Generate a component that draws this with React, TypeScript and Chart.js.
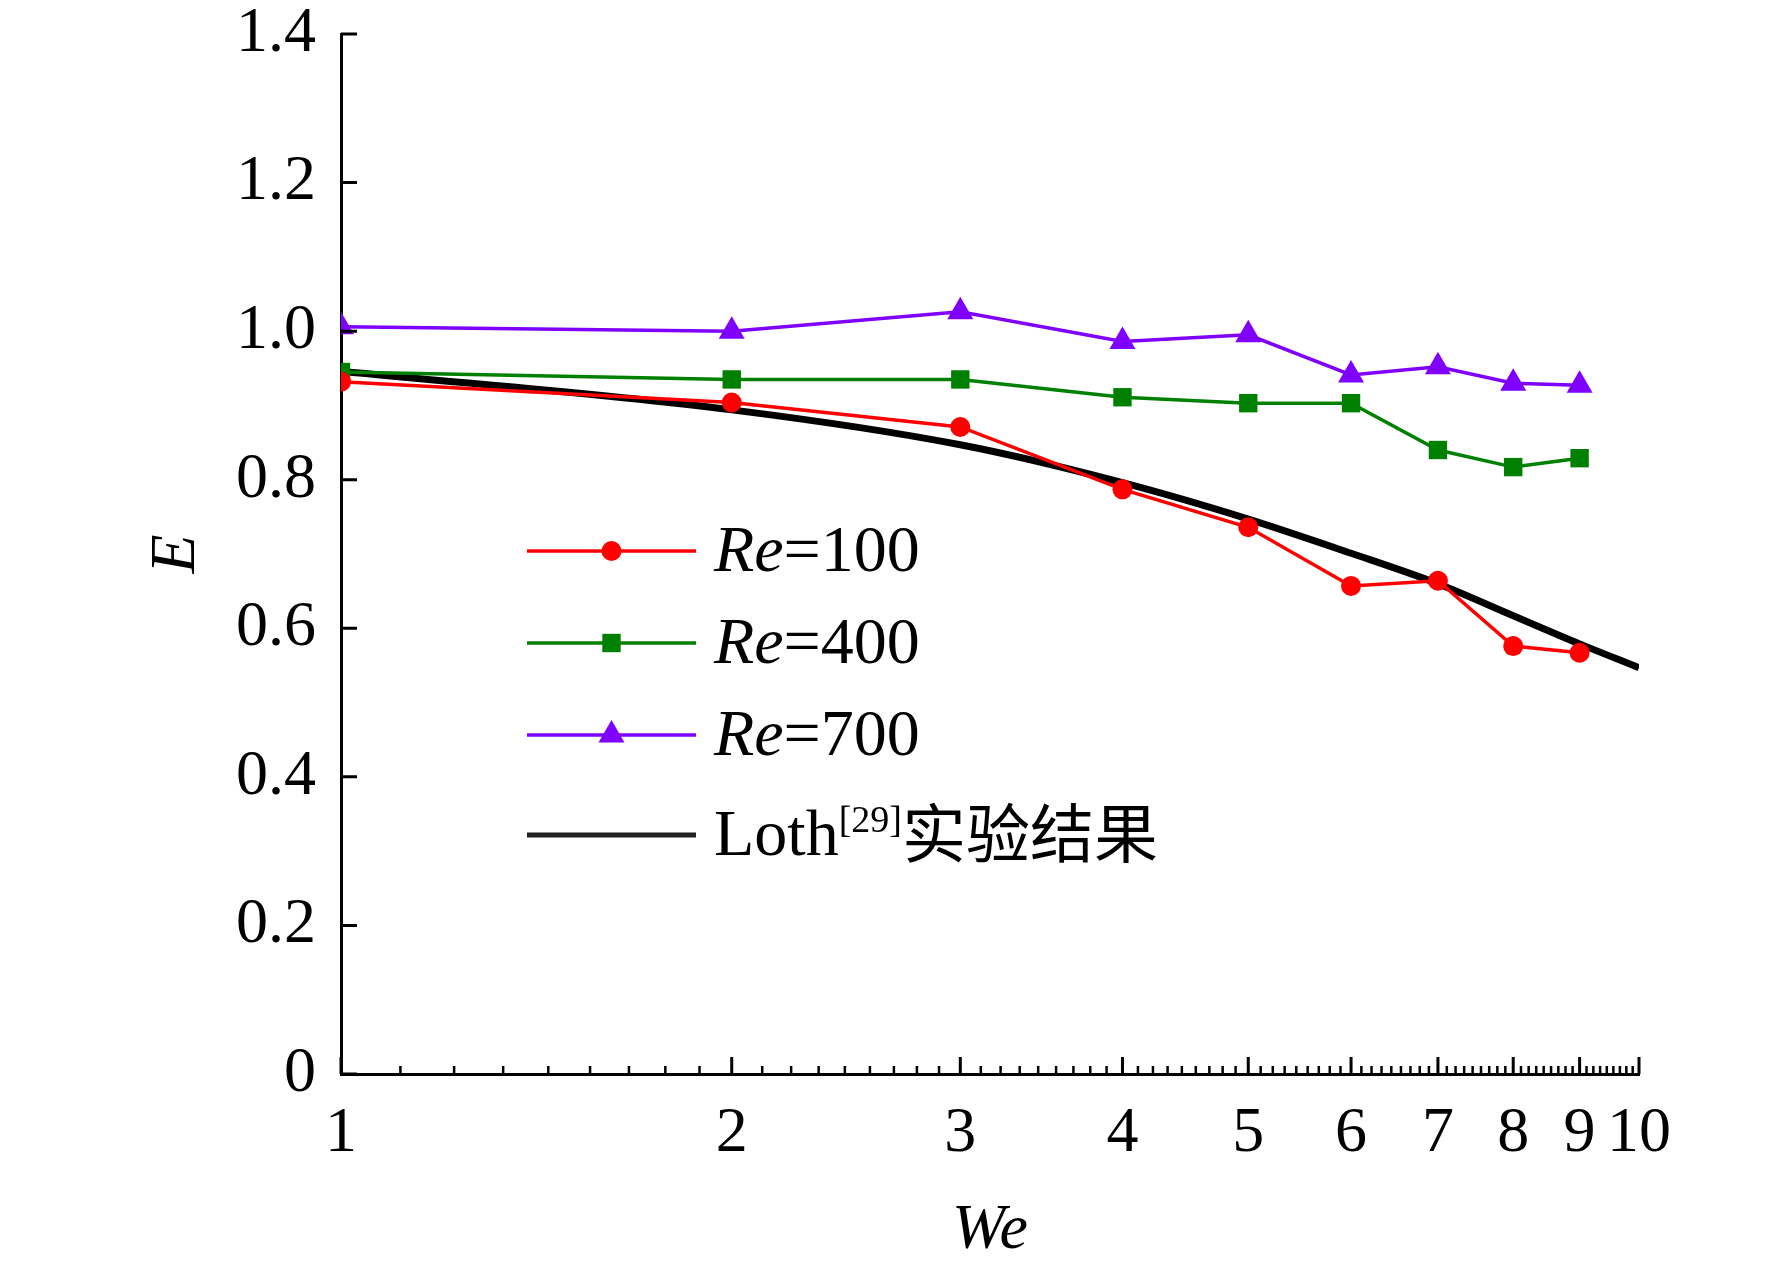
import { useEffect, useRef } from 'react'
import { Chart, registerables } from 'chart.js'
import { drawPoint } from 'chart.js/helpers'

Chart.register(...registerables)

// data
const weValues = [1, 2, 3, 4, 5, 6, 7, 8, 9]
const re100 = [0.932, 0.904, 0.871, 0.787, 0.736, 0.657, 0.664, 0.576, 0.567]
const re400 = [0.945, 0.935, 0.935, 0.911, 0.903, 0.903, 0.840, 0.817, 0.829]
const re700 = [1.006, 1.0, 1.026, 0.986, 0.995, 0.941, 0.952, 0.930, 0.927]
const lothWe = [1, 2, 3, 4, 5, 6, 7, 8, 9, 10]
const lothE = [0.946, 0.894, 0.847, 0.796, 0.747, 0.701, 0.660, 0.617, 0.579, 0.547]

const xTicks = [1, 2, 3, 4, 5, 6, 7, 8, 9, 10]
const yTicks = [0, 0.2, 0.4, 0.6, 0.8, 1.0, 1.2, 1.4]
const yTickLabels = ['0', '0.2', '0.4', '0.6', '0.8', '1.0', '1.2', '1.4']

const SERIF = '"Liberation Serif", "Times New Roman", serif'
const CJK = '"Noto Sans CJK SC", sans-serif'

type Part = { text: string; italic?: boolean; sup?: boolean; cjk?: boolean }
const legendParts: Part[][] = [
  [{ text: 'Re', italic: true }, { text: '=100' }],
  [{ text: 'Re', italic: true }, { text: '=400' }],
  [{ text: 'Re', italic: true }, { text: '=700' }],
  [{ text: 'Loth' }, { text: '[29]', sup: true }, { text: '实验结果', cjk: true }],
]

const toPoints = (xs: number[], ys: number[]) => xs.map((x, i) => ({ x, y: ys[i] }))

// inward ticks like the original plot
const innerTicks = {
  id: 'innerTicks',
  afterDraw(chart: any) {
    const { ctx, chartArea, scales } = chart
    ctx.save()
    ctx.strokeStyle = '#000'
    ctx.lineWidth = 3
    ctx.beginPath()
    yTicks.forEach(v => {
      const py = scales.y.getPixelForValue(v)
      ctx.moveTo(chartArea.left, py)
      ctx.lineTo(chartArea.left + 16, py)
    })
    xTicks.forEach(v => {
      const px = scales.x.getPixelForValue(v)
      ctx.moveTo(px, chartArea.bottom)
      ctx.lineTo(px, chartArea.bottom - 17)
    })
    ctx.stroke()
    ctx.lineWidth = 2.5
    ctx.beginPath()
    for (let i = 0; i < xTicks.length - 1; i++) {
      const step = (xTicks[i + 1] - xTicks[i]) / 9
      for (let k = 1; k < 9; k++) {
        const px = scales.x.getPixelForValue(xTicks[i] + k * step)
        ctx.moveTo(px, chartArea.bottom)
        ctx.lineTo(px, chartArea.bottom - 8)
      }
    }
    ctx.stroke()
    ctx.restore()
  },
}

const insetLegend = {
  id: 'insetLegend',
  afterDraw(chart: any) {
    const { ctx } = chart
    const x0 = 527
    const x1 = 696
    const textX = 714
    const rowY = [551, 643, 735, 835]
    chart.data.datasets.forEach((ds: any, i: number) => {
      const y = rowY[i]
      ctx.save()
      ctx.strokeStyle = ds.legendColor || ds.borderColor
      ctx.lineWidth = i === 3 ? 5 : 3.5
      ctx.beginPath()
      ctx.moveTo(x0, y)
      ctx.lineTo(x1, y)
      ctx.stroke()
      if (ds.pointRadius > 0) {
        ctx.fillStyle = ds.pointBackgroundColor
        ctx.strokeStyle = ds.pointBackgroundColor
        drawPoint(ctx, { pointStyle: ds.pointStyle, radius: ds.pointRadius, rotation: 0, borderWidth: 0 }, (x0 + x1) / 2, y)
      }
      ctx.fillStyle = '#000'
      ctx.textBaseline = 'alphabetic'
      let tx = textX
      legendParts[i].forEach(p => {
        if (p.sup) {
          ctx.font = `38px ${SERIF}`
          ctx.fillText(p.text, tx, y - 3)
        } else if (p.cjk) {
          ctx.font = `64px ${CJK}`
          ctx.fillText(p.text, tx, y + 22)
        } else {
          ctx.font = `${p.italic ? 'italic ' : ''}66px ${SERIF}`
          ctx.fillText(p.text, tx, y + 20)
        }
        tx += ctx.measureText(p.text).width
      })
      ctx.restore()
    })
  },
}

export default function App() {
  const canvasRef = useRef<HTMLCanvasElement>(null)
  const chartRef = useRef<Chart | null>(null)

  useEffect(() => {
    document.body.style.margin = '0'
    if (!canvasRef.current) return
    if (chartRef.current) chartRef.current.destroy()

    const tickFont = { family: SERIF, size: 64, lineHeight: 1 }
    const noClipLeft = { left: 0, top: false, right: false, bottom: false }

    chartRef.current = new Chart(canvasRef.current, {
      type: 'line',
      data: {
        datasets: [
          {
            label: 'Re=100',
            data: toPoints(weValues, re100),
            borderColor: '#ff0000',
            borderWidth: 3.5,
            pointStyle: 'circle',
            pointRadius: 10,
            pointBackgroundColor: '#ff0000',
            pointBorderWidth: 0,
            clip: noClipLeft,
          } as any,
          {
            label: 'Re=400',
            data: toPoints(weValues, re400),
            borderColor: '#008000',
            borderWidth: 3.5,
            pointStyle: 'rect',
            pointRadius: 13,
            pointBackgroundColor: '#008000',
            pointBorderWidth: 0,
            clip: noClipLeft,
          },
          {
            label: 'Re=700',
            data: toPoints(weValues, re700),
            borderColor: '#7f00ff',
            borderWidth: 3.5,
            pointStyle: 'triangle',
            pointRadius: 15,
            pointBackgroundColor: '#7f00ff',
            pointBorderWidth: 0,
            clip: noClipLeft,
          },
          {
            label: 'Loth[29]实验结果',
            data: toPoints(lothWe, lothE),
            borderColor: '#000',
            legendColor: '#222',
            borderWidth: 7,
            pointRadius: 0,
            cubicInterpolationMode: 'monotone',
          },
        ],
      },
      options: {
        responsive: false,
        animation: false,
        devicePixelRatio: 1,
        layout: { padding: { top: 34, right: 133, left: 0, bottom: 0 } },
        plugins: {
          legend: { display: false },
          tooltip: { enabled: false },
        },
        scales: {
          x: {
            type: 'logarithmic',
            min: 1,
            max: 10,
            grid: { display: false, drawTicks: false },
            border: { display: true, color: '#000', width: 3 },
            afterBuildTicks: (s: any) => { s.ticks = xTicks.map(v => ({ value: v })) },
            afterFit: (s: any) => {
              s.height = 200
              s.paddingLeft = 0
              s.paddingRight = 0
            },
            ticks: {
              autoSkip: false,
              maxRotation: 0,
              minRotation: 0,
              color: '#000',
              font: tickFont,
              padding: 28,
              callback: (v: any) => String(v),
            },
            title: {
              display: true,
              text: 'We',
              color: '#000',
              font: { family: SERIF, size: 64, style: 'italic' },
              padding: { top: 0, bottom: 4 },
            },
          },
          y: {
            min: 0,
            max: 1.4,
            grid: { display: false, drawTicks: false },
            border: { display: true, color: '#000', width: 3 },
            afterBuildTicks: (s: any) => { s.ticks = yTicks.map(v => ({ value: v })) },
            afterFit: (s: any) => {
              s.width = 341
              s.paddingTop = 0
              s.paddingBottom = 0
            },
            ticks: {
              color: '#000',
              font: tickFont,
              padding: 25,
              callback: (v: any) => yTickLabels[yTicks.indexOf(Number(v))],
            },
            title: {
              display: true,
              text: 'E',
              color: '#000',
              font: { family: SERIF, size: 64, style: 'italic' },
              padding: { top: 139, bottom: 0 },
            },
          },
        },
      },
      plugins: [innerTicks, insetLegend],
    })

    return () => {
      if (chartRef.current) {
        chartRef.current.destroy()
        chartRef.current = null
      }
    }
  }, [])

  return (
    <div style={{ width: 1772, height: 1274, background: '#fff' }}>
      <canvas ref={canvasRef} width={1772} height={1274}></canvas>
    </div>
  )
}
